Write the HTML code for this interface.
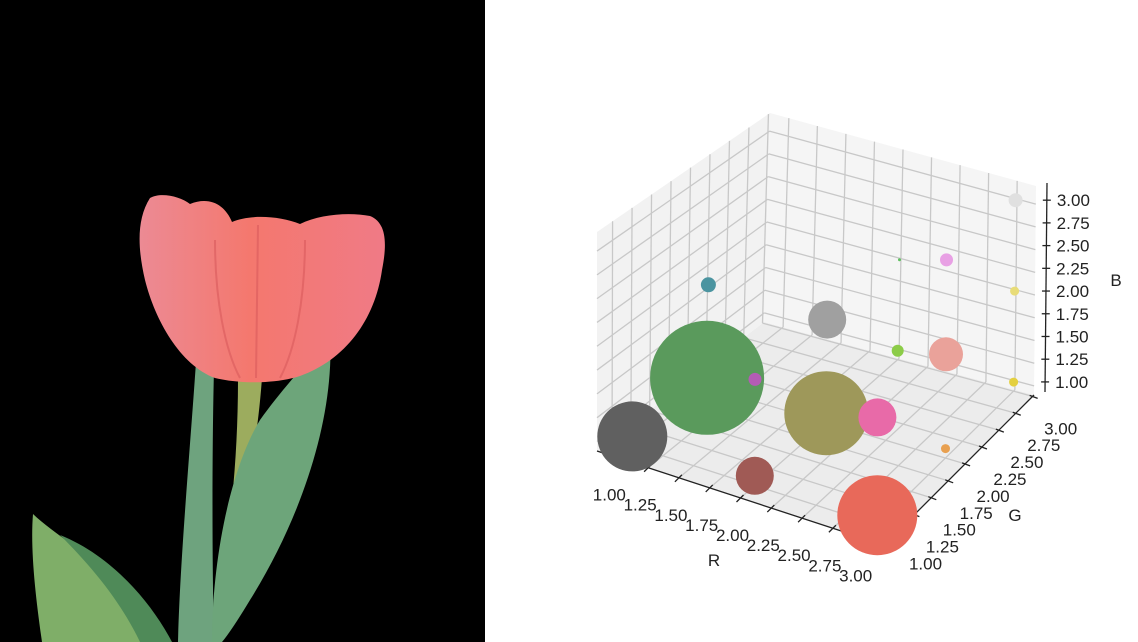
<!DOCTYPE html>
<html><head><meta charset="utf-8">
<style>
html,body{margin:0;padding:0;background:#fff;}
body{width:1138px;height:642px;overflow:hidden;position:relative;font-family:"Liberation Sans","DejaVu Sans",sans-serif;}
svg{position:absolute;left:0;top:0;}
</style></head>
<body>
<svg id="photo" width="1138" height="642" viewBox="0 0 1138 642">
  <defs>
    <linearGradient id="petal" x1="0" y1="0" x2="1" y2="0">
      <stop offset="0" stop-color="#ec8a94"/><stop offset="0.45" stop-color="#f4786e"/><stop offset="1" stop-color="#f07a86"/>
    </linearGradient>
  </defs>
  <rect x="0" y="0" width="485" height="642" fill="#000"/>
  <path d="M33,514 C60,540 120,570 170,642 L42,642 C36,600 30,550 33,514 Z" fill="#7fae68"/>
  <path d="M60,535 C110,555 150,600 172,642 L140,642 C120,600 90,565 60,535 Z" fill="#4f8a58"/>
  <path d="M196,362 L214,368 C212,450 212,560 214,642 L178,642 C180,560 190,450 196,362 Z" fill="#6ea37e"/>
  <path d="M238,378 L262,378 C258,430 252,470 238,505 L232,500 C236,460 238,420 238,378 Z" fill="#9cac5e"/>
  <path d="M330,334 C335,420 300,520 250,600 C238,620 228,635 222,642 L212,642 C212,560 230,470 260,420 C285,385 310,360 330,334 Z" fill="#6da57a"/>
  <path d="M150,198 C160,192 180,196 190,204 C210,196 225,205 232,222 C250,214 280,216 300,224 C320,214 350,212 370,216 C385,222 388,240 382,270 C375,320 345,360 300,376 C275,384 240,384 215,378 C180,365 155,320 145,280 C138,250 136,220 150,198 Z" fill="url(#petal)"/>
  <path d="M258,225 L256,378 M215,240 C215,300 225,350 240,378 M305,240 C305,300 295,350 280,378" stroke="#d85a5c" stroke-width="2" fill="none" opacity="0.6"/>
</svg>
<svg id="chart" width="1138" height="642" viewBox="0 0 1138 642"></svg>
<script>
// data: bubble positions (R,G,B), marker areas, colors
const valuesR = [1, 1, 1, 2, 2, 2, 3, 2, 3, 2, 2, 3, 3, 3, 3, 3, 3];
const valuesG = [1, 2, 2, 1, 2, 2, 1, 1, 1, 3, 3, 2, 2, 3, 3, 2, 3];
const valuesB = [1, 1, 2, 2, 2, 1, 2, 1, 1, 1, 2, 3, 2, 2, 1, 1, 3];
const sizes = [4900, 13000, 225, 170, 1440, 7060, 1440, 1440, 6400, 144, 9, 170, 1160, 81, 81, 81, 196];
const colors = ["#606060","#5a9a5c","#4b94a0","#b45cb4","#a0a0a0","#9e985a","#e86aa8","#a05a55","#e8695a","#8ccc48","#60c060","#e8a0e4","#eaa29a","#e8dc78","#e4d040","#e8a050","#e0e0e0"];
const tickValues = [1.00, 1.25, 1.50, 1.75, 2.00, 2.25, 2.50, 2.75, 3.00];
const tickLabels = ["1.00","1.25","1.50","1.75","2.00","2.25","2.50","2.75","3.00"];

const svg = document.getElementById('chart');
const NS = 'http://www.w3.org/2000/svg';
const rLo = 0.835, rHi = 3.165, gLo = 0.80, gHi = 3.02, bLo = 0.90, bHi = 3.20;
const A = [597,451], Bc = [884,545], C = [1034,395], D = [764,322];
const At = [597,232], Bt = [884,318], Ct = [1036,186], Dt = [770,113];
function bil(p,q,r,s,u,v){
  return [p[0]*(1-u)*(1-v)+q[0]*u*(1-v)+r[0]*u*v+s[0]*(1-u)*v,
          p[1]*(1-u)*(1-v)+q[1]*u*(1-v)+r[1]*u*v+s[1]*(1-u)*v];
}
function proj(r,g,b){
  const u=(r-rLo)/(rHi-rLo), v=(g-gLo)/(gHi-gLo), w=(b-bLo)/(bHi-bLo);
  const lo=bil(A,Bc,C,D,u,v), hi=bil(At,Bt,Ct,Dt,u,v);
  return [lo[0]+(hi[0]-lo[0])*w, lo[1]+(hi[1]-lo[1])*w];
}
function el(tag, attrs){
  const e=document.createElementNS(NS,tag);
  for(const k in attrs) e.setAttribute(k, attrs[k]);
  svg.appendChild(e); return e;
}
function poly(pts){ return pts.map(p=>p[0].toFixed(1)+','+p[1].toFixed(1)).join(' '); }

let p;
p = el('polygon',{points:poly([proj(rLo,gLo,bLo),proj(rHi,gLo,bLo),proj(rHi,gHi,bLo),proj(rLo,gHi,bLo)]),fill:'#ececec'});


p = el('polygon',{points:poly([proj(rLo,gLo,bLo),proj(rLo,gHi,bLo),proj(rLo,gHi,bHi),proj(rLo,gLo,bHi)]),fill:'#f2f2f2'});


p = el('polygon',{points:poly([proj(rLo,gHi,bLo),proj(rHi,gHi,bLo),proj(rHi,gHi,bHi),proj(rLo,gHi,bHi)]),fill:'#f5f5f5'});



function gline(a,b,name){
  const l=el('line',{x1:a[0],y1:a[1],x2:b[0],y2:b[1],stroke:'#c8c8c8','stroke-width':1.3});
  
  
}
tickValues.forEach(t=>{
  gline(proj(t,gLo,bLo),proj(t,gHi,bLo),'floor-grid-r');
  gline(proj(rLo,t,bLo),proj(rHi,t,bLo),'floor-grid-g');
  gline(proj(rLo,t,bLo),proj(rLo,t,bHi),'left-grid-g');
  gline(proj(rLo,gLo,t),proj(rLo,gHi,t),'left-grid-b');
  gline(proj(t,gHi,bLo),proj(t,gHi,bHi),'back-grid-r');
  gline(proj(rLo,gHi,t),proj(rHi,gHi,t),'back-grid-b');
});

function aline(a,b,name){
  const l=el('line',{x1:a[0],y1:a[1],x2:b[0],y2:b[1],stroke:'#222','stroke-width':1.3});
  
  
}
aline(proj(rLo,gLo,bLo),proj(rHi,gLo,bLo),'r-axis-line');
aline(proj(rHi,gLo,bLo),proj(rHi,gHi,bLo),'g-axis-line');
aline([1045,392],[1047,183],'b-axis-line');

function txt(x,y,s,anchor,size,name){
  const t=el('text',{x:x,y:y,'font-size':size,'text-anchor':anchor,fill:'#222','font-family':'"Liberation Sans","DejaVu Sans",sans-serif'});
  t.textContent=s;
  
  
}
tickValues.forEach((t,i)=>{
  const pr=proj(t,gLo,bLo);
  aline([pr[0]+3,pr[1]-3],[pr[0]-4,pr[1]+4],'r-tick');
  txt(pr[0]-8,pr[1]+43,tickLabels[i],'middle',17,'r-tick-label');
  const pg=proj(rHi,t,bLo);
  aline([pg[0]-3,pg[1]-1],[pg[0]+5,pg[1]+2],'g-tick');
  txt(pg[0]+28,pg[1]+38,tickLabels[i],'middle',17,'g-tick-label');
  const pb=proj(rHi,gHi,t);
  const by=pb[1]-4;
  const bx=1045+2*(by-392)/(183-392);
  aline([bx-4,by],[bx+4,by],'b-tick');
  txt(bx+10,by+6,tickLabels[i],'start',17,'b-tick-label');
});
txt(714,566,'R','middle',17,'r-axis-title');
txt(1015,521,'G','middle',17,'g-axis-title');
txt(1116,286,'B','middle',17,'b-axis-title');

const order = valuesR.map((_,i)=>i).sort((a,b)=>{
  const ka=(valuesR[a]-rLo)-(valuesG[a]-gLo), kb=(valuesR[b]-rLo)-(valuesG[b]-gLo);
  return ka-kb;
});
order.forEach(i=>{
  const c=proj(valuesR[i],valuesG[i],valuesB[i]);
  const bub=el('circle',{cx:c[0].toFixed(1),cy:c[1].toFixed(1),r:(Math.sqrt(sizes[i])/2).toFixed(1),fill:colors[i]});
  
  
});
</script>
</body></html>
